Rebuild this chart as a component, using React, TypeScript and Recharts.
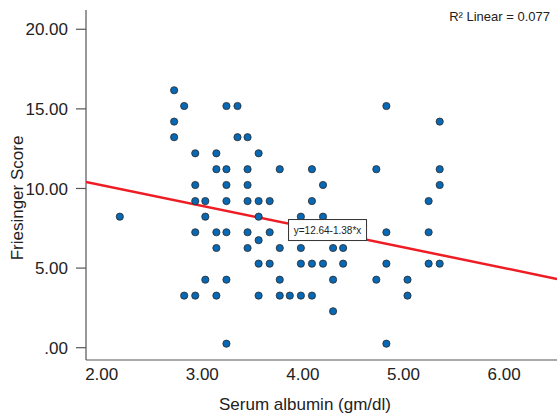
import React from "react";
import { ScatterChart, Scatter, XAxis, YAxis } from "recharts";

// Serum albumin (gm/dl) values
const albumin: number[] = [
  2.18,
  2.72, 2.72, 2.72,
  2.82, 2.82,
  2.93, 2.93, 2.93, 2.93, 2.93,
  3.03, 3.03, 3.03,
  3.14, 3.14, 3.14, 3.14, 3.14,
  3.24, 3.24, 3.24, 3.24, 3.24, 3.24, 3.24,
  3.35, 3.35,
  3.45, 3.45, 3.45, 3.45, 3.45, 3.45,
  3.56, 3.56, 3.56, 3.56, 3.56, 3.56,
  3.67, 3.67, 3.67,
  3.77, 3.77, 3.77, 3.77,
  3.87,
  3.98, 3.98, 3.98, 3.98,
  4.09, 4.09, 4.09, 4.09,
  4.2, 4.2, 4.2,
  4.3, 4.3, 4.3,
  4.4, 4.4,
  4.73, 4.73,
  4.83, 4.83, 4.83, 4.83,
  5.04, 5.04,
  5.25, 5.25, 5.25,
  5.36, 5.36, 5.36, 5.36,
];

// Friesinger score values
const friesinger: number[] = [
  8.23,
  16.17, 14.2, 13.22,
  15.18, 3.27,
  12.21, 10.22, 9.21, 7.25, 3.27,
  9.21, 8.23, 4.27,
  12.21, 11.21, 7.25, 6.26, 3.27,
  15.18, 11.21, 10.22, 9.21, 7.25, 4.27, 0.25,
  15.18, 13.22,
  13.22, 11.21, 10.22, 9.21, 7.25, 6.26,
  12.21, 9.21, 8.23, 6.75, 5.28, 3.27,
  9.21, 7.25, 5.28,
  11.21, 6.26, 4.27, 3.27,
  3.27,
  8.23, 6.26, 5.28, 3.27,
  11.21, 9.21, 5.28, 3.27,
  10.22, 8.23, 5.28,
  6.26, 4.27, 2.29,
  6.26, 5.28,
  11.21, 4.27,
  15.18, 7.25, 5.28, 0.25,
  4.27, 3.27,
  9.21, 7.25, 5.28,
  14.2, 11.21, 10.22, 5.28,
];

// Fit line end points (as drawn), and equation label position
const fitX: number[] = [1.844, 6.526];
const fitY: number[] = [10.41, 4.32];
const equationLabel = "y=12.64-1.38*x";
const equationAt = { x: 4.245, y: 7.39 };
const r2Label = "R\u00B2 Linear = 0.077";

const xTicks: number[] = [2, 3, 4, 5, 6];
const yTicks: number[] = [0, 5, 10, 15, 20];
const xDomain: [number, number] = [1.844, 6.526];
const yDomain: [number, number] = [-0.773, 21.21];

const xTitle = "Serum albumin (gm/dl)";
const yTitle = "Friesinger Score";

const points = albumin.map((x, i) => ({ x, y: friesinger[i] }));
const fitLine = fitX.map((x, i) => ({ x, y: fitY[i] }));
const eqPoint = [equationAt];

const FONT = "'Liberation Sans', Arial, sans-serif";

const Dot = (props: any) => {
  const { cx, cy } = props;
  if (cx == null || cy == null) return <g />;
  return <circle cx={cx} cy={cy} r={3.6} fill="#0868b3" stroke="#2a2a2a" strokeWidth={0.8} />;
};

const EqBox = (props: any) => {
  const { cx, cy } = props;
  if (cx == null || cy == null) return <g />;
  const w = 78;
  const h = 21;
  return (
    <g>
      <rect x={cx - w / 2} y={cy - h / 2} width={w} height={h} fill="#ffffff" stroke="#333333" strokeWidth={1} />
      <text x={cx} y={cy} textAnchor="middle" dominantBaseline="central" fontSize={10} fontFamily={FONT} fill="#222">
        {equationLabel}
      </text>
    </g>
  );
};

export default function App() {
  return (
    <div style={{ position: "absolute", left: 0, top: 0, width: 557, height: 415, background: "#fff" }}>
      <ScatterChart width={557} height={415} margin={{ top: 10, right: 0, bottom: 0, left: 0 }}>
        <XAxis
          type="number"
          dataKey="x"
          domain={xDomain}
          allowDataOverflow
          ticks={xTicks}
          tickFormatter={(v: number) => v.toFixed(2)}
          tickLine={false}
          height={55}
          axisLine={{ stroke: "#555", strokeWidth: 1.2 }}
          tick={{ fill: "#222", fontSize: 17, fontFamily: FONT }}
        />
        <YAxis
          type="number"
          dataKey="y"
          domain={yDomain}
          allowDataOverflow
          ticks={yTicks}
          tickFormatter={(v: number) => (v === 0 ? ".00" : v.toFixed(2))}
          width={86}
          tickSize={10}
          tickMargin={8}
          axisLine={{ stroke: "#555", strokeWidth: 1.2 }}
          tickLine={{ stroke: "#555", strokeWidth: 1.2 }}
          tick={{ fill: "#222", fontSize: 17, fontFamily: FONT }}
        />
        <Scatter
          data={fitLine}
          line={{ stroke: "#ee1c24", strokeWidth: 2.5 }}
          shape={() => <g />}
          isAnimationActive={false}
        />
        <Scatter data={points} shape={Dot} isAnimationActive={false} />
        <Scatter data={eqPoint} shape={EqBox} isAnimationActive={false} />
        <text x={305} y={410} textAnchor="middle" fontSize={17} fontFamily={FONT} fill="#222">
          {xTitle}
        </text>
        <text
          x={17.5}
          y={198}
          transform="rotate(-90, 17.5, 198)"
          textAnchor="middle"
          dominantBaseline="central"
          fontSize={17}
          fontFamily={FONT}
          fill="#222"
        >
          {yTitle}
        </text>
        <text x={550} y={21} textAnchor="end" fontSize={13} fontFamily={FONT} fill="#222">
          {r2Label}
        </text>
      </ScatterChart>
    </div>
  );
}
